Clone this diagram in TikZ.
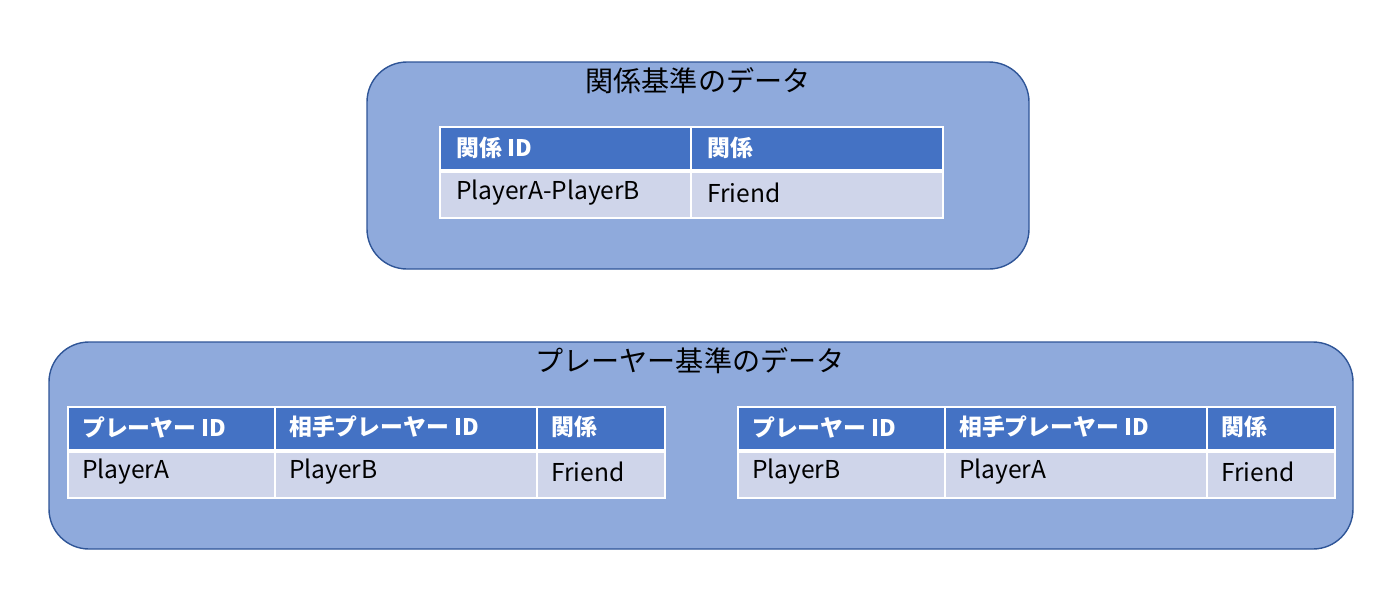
\documentclass[tikz,border=0pt]{standalone}
\usepackage{fontspec}
\setmainfont{Noto Sans CJK JP}
\usetikzlibrary{positioning, calc}
\definecolor{PanelBlue}{HTML}{8FAADC}
\definecolor{PanelEdge}{HTML}{2F5597}
\definecolor{HeadBlue}{HTML}{4472C4}
\definecolor{RowBlue}{HTML}{CFD5EA}

\tikzset{
  panel/.style={draw=PanelEdge, fill=PanelBlue, rounded corners=0.8cm, line width=0.8pt},
  headcell/.style={fill=HeadBlue, draw=white, line width=1pt},
  rowcell/.style={fill=RowBlue, draw=white, line width=1pt},
  headtext/.style={anchor=west, text=white, font=\bfseries\fontsize{13}{15}\selectfont},
  rowtext/.style={anchor=west, text=black, font=\fontsize{14}{16}\selectfont},
  titletext/.style={font=\fontsize{16}{19}\selectfont}
}

\begin{document}
\begin{tikzpicture}[x=0.02cm, y=-0.02cm]
  \useasboundingbox (0,0) rectangle (1400,599);

  % --- panels ---
  \draw[panel] (367,62) rectangle (1029,269);
  \node[titletext] (reltitle) at (698,81) {関係基準のデータ};
  \draw[panel] (49,342) rectangle (1353,549);
  \node[titletext] (plytitle) at (690,361) {プレーヤー基準のデータ};

  % --- relation table ---
  \draw[headcell] (440,127) rectangle (691,171);
  \draw[headcell] (691,127) rectangle (943,171);
  \draw[rowcell] (440,171) rectangle (691,218);
  \draw[rowcell] (691,171) rectangle (943,218);
  \draw[white, line width=2pt] (440,171) -- (943,171);
  \node[headtext] (relh1) at (450,148) {関係 ID};
  \node[headtext] (relh2) at (701,148) {関係};
  \node[rowtext] (relr1) at (450,193) {PlayerA-PlayerB};
  \node[rowtext] (relr2) at (701,193) {Friend};

  % --- player tables ---
  \foreach \ox/\pa/\pb [count=\i] in {68/PlayerA/PlayerB, 738/PlayerB/PlayerA} {
    \draw[headcell] (\ox,407) rectangle ++(207,44);
    \draw[headcell] (\ox+207,407) rectangle ++(262,44);
    \draw[headcell] (\ox+469,407) rectangle ++(128,44);
    \draw[rowcell] (\ox,451) rectangle ++(207,47);
    \draw[rowcell] (\ox+207,451) rectangle ++(262,47);
    \draw[rowcell] (\ox+469,451) rectangle ++(128,47);
    \draw[white, line width=2pt] (\ox,451) -- ++(597,0);
    \node[headtext] (ph\i a) at (\ox+8,427) {プレーヤー ID};
    \node[headtext] (ph\i b) at (\ox+215,427) {相手プレーヤー ID};
    \node[headtext] (ph\i c) at (\ox+477,427) {関係};
    \node[rowtext] (pr\i a) at (\ox+8,472) {\pa};
    \node[rowtext] (pr\i b) at (\ox+215,472) {\pb};
    \node[rowtext] (pr\i c) at (\ox+477,472) {Friend};
  }
\end{tikzpicture}
\end{document}
